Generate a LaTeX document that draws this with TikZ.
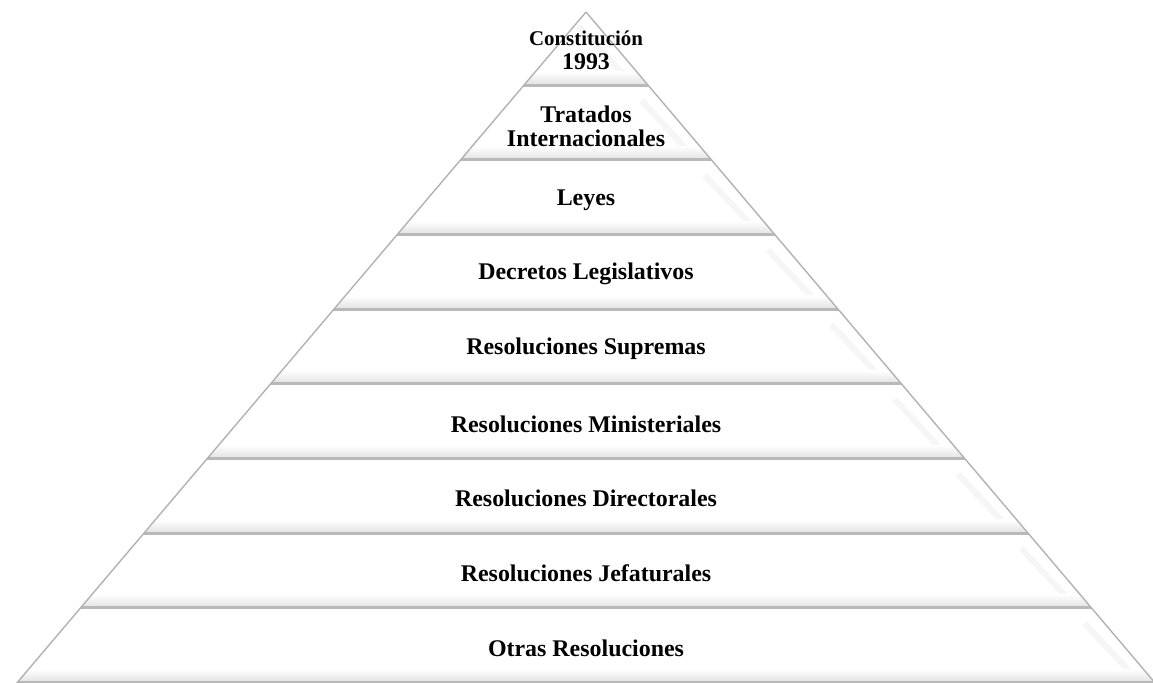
\documentclass[tikz,border=0pt]{standalone}
\usepackage{fontspec}
\setmainfont{Liberation Serif}
\begin{document}
\begin{tikzpicture}[x=0.5bp, y=-0.5bp,
    level/.style={black, inner sep=0pt, align=center, font=\fontsize{12}{12}\selectfont\bfseries},
    glow/.style={top color=white, bottom color=gray!22},
    rim/.style={draw=gray!55, line width=1.4bp},
    bevel/.style={draw=gray!7, line width=3bp},
    edge/.style={draw=gray!60, line width=0.7bp}]
  \useasboundingbox (0,0) rectangle (1153,682);
  \coordinate (apex) at (586,12);
  \coordinate (left) at (16,684);
  \coordinate (right) at (1156,684);
  % bands of the pyramid
  \begin{scope}
    \clip (apex) -- (left) -- (right) -- cycle;
    \fill[white] (0,0) rectangle (1160,690);
    \foreach \i in {1,...,9} {
      \pgfmathsetmacro{\yt}{12+74.667*(\i-1)}
      \pgfmathsetmacro{\yb}{12+74.667*\i}
      \draw[bevel] (586+0.848*\yt-18,\yt+14) -- (586+0.848*\yb-0.848*26-14,\yb-12);
      \shade[glow] (0,\yb-15) rectangle (1160,\yb-2.5);
      \draw[rim] (0,\yb-1.5) -- (1160,\yb-1.5);
    }
  \end{scope}
  \draw[edge] (apex) -- (left);
  \draw[edge] (apex) -- (right);
  % labels
  \node[level] (constitucion) at (586,50) {{\fontsize{10.5}{12}\selectfont Constitución}\\1993};
  \node[level] (tratados) at (586,126) {Tratados\\Internacionales};
  \node[level] (leyes) at (586,200) {Leyes};
  \node[level] (decretos) at (586,274) {Decretos Legislativos};
  \node[level] (supremas) at (586,349) {Resoluciones Supremas};
  \node[level] (ministeriales) at (586,424) {Resoluciones Ministeriales};
  \node[level] (directorales) at (586,498) {Resoluciones Directorales};
  \node[level] (jefaturales) at (586,573) {Resoluciones Jefaturales};
  \node[level] (otras) at (586,648) {Otras Resoluciones};
\end{tikzpicture}
\end{document}
